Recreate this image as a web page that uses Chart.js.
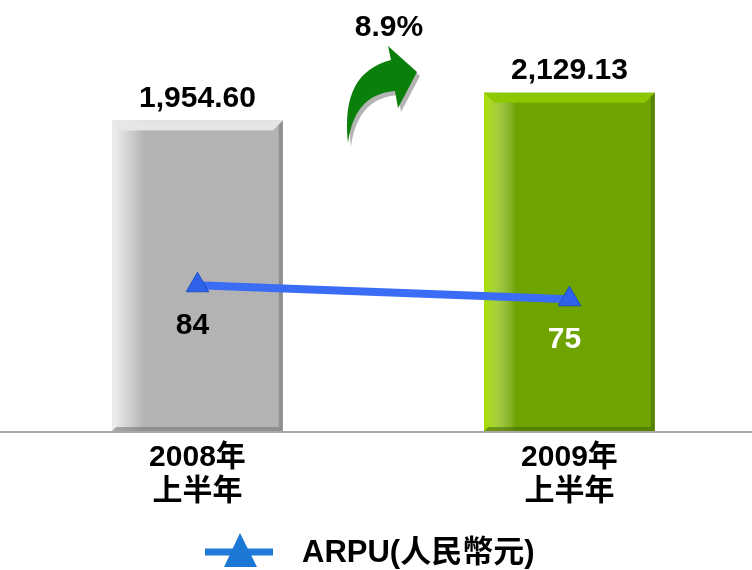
<!DOCTYPE html>
<html>
<head>
<meta charset="utf-8">
<script src="https://cdn.jsdelivr.net/npm/chart.js@4"></script>
<style>
  html, body { margin: 0; padding: 0; background: #fff; }
  #wrap { width: 752px; height: 570px; }
</style>
</head>
<body>
<div id="wrap"><canvas id="c" width="752" height="570"></canvas></div>
<script>
// data
const periods = [['2008年', '上半年'], ['2009年', '上半年']];
const revenue = [1954.60, 2129.13];
const revenueText = ['1,954.60', '2,129.13'];
const arpu = [84, 75];
const arpuName = 'ARPU(人民幣元)';
const growthText = '8.9%';

const FONT = '"Liberation Sans", Arial, "Noto Sans CJK TC", sans-serif';
const barColors = ['#b3b3b3', '#6fa300'];
const bevelLight = ['rgba(232,232,232,0.95)', 'rgba(140,200,0,0.95)'];
const edgeLight = ['rgba(245,245,245,0.9)', 'rgba(170,225,0,0.95)'];
const edgeDark = ['rgba(120,120,120,0.6)', 'rgba(70,110,0,0.6)'];
const arpuLabelColors = ['#000', '#fff'];

// bevel look on the bars + baseline
const barDeco = {
  id: 'barDeco',
  afterDatasetDraw(chart, args) {
    if (args.index !== 0) return;
    const ctx = chart.ctx;
    const meta = chart.getDatasetMeta(0);
    meta.data.forEach((bar, i) => {
      const l = bar.x - bar.width / 2, r = bar.x + bar.width / 2;
      const t = bar.y, b = bar.base;
      const bv = 10;
      ctx.save();
      const g = ctx.createLinearGradient(l, 0, l + 32, 0);
      g.addColorStop(0, edgeLight[i]);
      g.addColorStop(1, 'rgba(255,255,255,0)');
      ctx.fillStyle = g;
      ctx.fillRect(l, t, 32, b - t);
      ctx.beginPath();
      ctx.moveTo(l, t); ctx.lineTo(r, t); ctx.lineTo(r - bv, t + bv); ctx.lineTo(l + bv, t + bv);
      ctx.closePath();
      ctx.fillStyle = bevelLight[i];
      ctx.fill();
      ctx.beginPath();
      ctx.moveTo(r, t); ctx.lineTo(r, b); ctx.lineTo(l, b); ctx.lineTo(l + 4, b - 4);
      ctx.lineTo(r - 4, b - 4); ctx.lineTo(r - 4, t + 4);
      ctx.closePath();
      ctx.fillStyle = edgeDark[i];
      ctx.fill();
      ctx.restore();
    });
    ctx.save();
    ctx.strokeStyle = '#a8a8a8';
    ctx.lineWidth = 2;
    ctx.beginPath();
    ctx.moveTo(0, chart.chartArea.bottom + 1);
    ctx.lineTo(chart.width, chart.chartArea.bottom + 1);
    ctx.stroke();
    ctx.restore();
  }
};

// value labels, growth arrow, legend
const labelsPlugin = {
  id: 'labels',
  afterDraw(chart) {
    const ctx = chart.ctx;
    ctx.save();
    ctx.textAlign = 'center';
    ctx.textBaseline = 'middle';
    ctx.font = 'bold 30px ' + FONT;

    chart.getDatasetMeta(0).data.forEach((bar, i) => {
      ctx.fillStyle = '#000';
      ctx.fillText(revenueText[i], bar.x, bar.y - 22);
    });
    chart.getDatasetMeta(1).data.forEach((pt, i) => {
      ctx.fillStyle = arpuLabelColors[i];
      ctx.fillText(String(arpu[i]), pt.x - 5, pt.y + 40);
    });

    ctx.fillStyle = '#000';
    ctx.fillText(growthText, 389, 28);

    const arrow = (dx, dy) => {
      ctx.beginPath();
      ctx.moveTo(348 + dx, 143 + dy);
      ctx.bezierCurveTo(343 + dx, 93 + dy, 358 + dx, 69 + dy, 391 + dx, 60 + dy);
      ctx.lineTo(388 + dx, 46 + dy);
      ctx.lineTo(417 + dx, 72 + dy);
      ctx.lineTo(398 + dx, 108 + dy);
      ctx.lineTo(395 + dx, 91 + dy);
      ctx.bezierCurveTo(372 + dx, 93 + dy, 353 + dx, 105 + dy, 348 + dx, 143 + dy);
      ctx.closePath();
      ctx.fill();
    };
    ctx.fillStyle = 'rgba(130,130,130,0.6)';
    arrow(3, 4);
    ctx.fillStyle = '#0a7f0a';
    arrow(0, 0);

    // legend
    const ds = chart.data.datasets[1];
    ctx.strokeStyle = '#1f7bd6';
    ctx.lineWidth = 7;
    ctx.beginPath();
    ctx.moveTo(205, 552);
    ctx.lineTo(273, 552);
    ctx.stroke();
    ctx.fillStyle = '#1b78d4';
    ctx.beginPath();
    ctx.moveTo(240, 533);
    ctx.lineTo(257, 567);
    ctx.lineTo(224, 567);
    ctx.closePath();
    ctx.fill();
    ctx.fillStyle = '#000';
    ctx.textAlign = 'left';
    ctx.font = 'bold 31px ' + FONT;
    ctx.fillText(ds.label, 302, 553);
    ctx.restore();
  }
};

new Chart(document.getElementById('c'), {
  data: {
    datasets: [
      {
        type: 'bar',
        label: 'revenue',
        data: revenue.map((v, i) => ({ x: i, y: v })),
        backgroundColor: barColors,
        borderWidth: 0,
        barPercentage: 0.459,
        categoryPercentage: 1,
        yAxisID: 'y',
        order: 1
      },
      {
        type: 'line',
        label: arpuName,
        data: arpu.map((v, i) => ({ x: i, y: v })),
        borderColor: '#3b6cf5',
        borderWidth: 8,
        pointStyle: 'triangle',
        pointRadius: 13,
        pointBackgroundColor: '#2e62e8',
        pointBorderColor: '#1f4fc8',
        pointBorderWidth: 1,
        yAxisID: 'y1',
        order: 0
      }
    ]
  },
  options: {
    responsive: false,
    animation: false,
    layout: { padding: 0 },
    plugins: { legend: { display: false }, tooltip: { enabled: false } },
    scales: {
      x: {
        type: 'linear',
        offset: false,
        min: -0.4933,
        max: 1.4531,
        grid: { display: false, drawTicks: false, tickLength: 0 },
        border: { display: false },
        afterBuildTicks: (s) => { s.ticks = periods.map((p, i) => ({ value: i })); },
        ticks: {
          color: '#000', padding: 10,
          font: { family: FONT, size: 30, weight: 'bold', lineHeight: 1.12 },
          callback: (v) => periods[v]
        },
        afterFit: (s) => { s.height = 139; }
      },
      y: { display: false, min: 0, max: 2625 },
      y1: { display: false, min: -9.9, max: 258.8 }
    }
  },
  plugins: [barDeco, labelsPlugin]
});
</script>
</body>
</html>
